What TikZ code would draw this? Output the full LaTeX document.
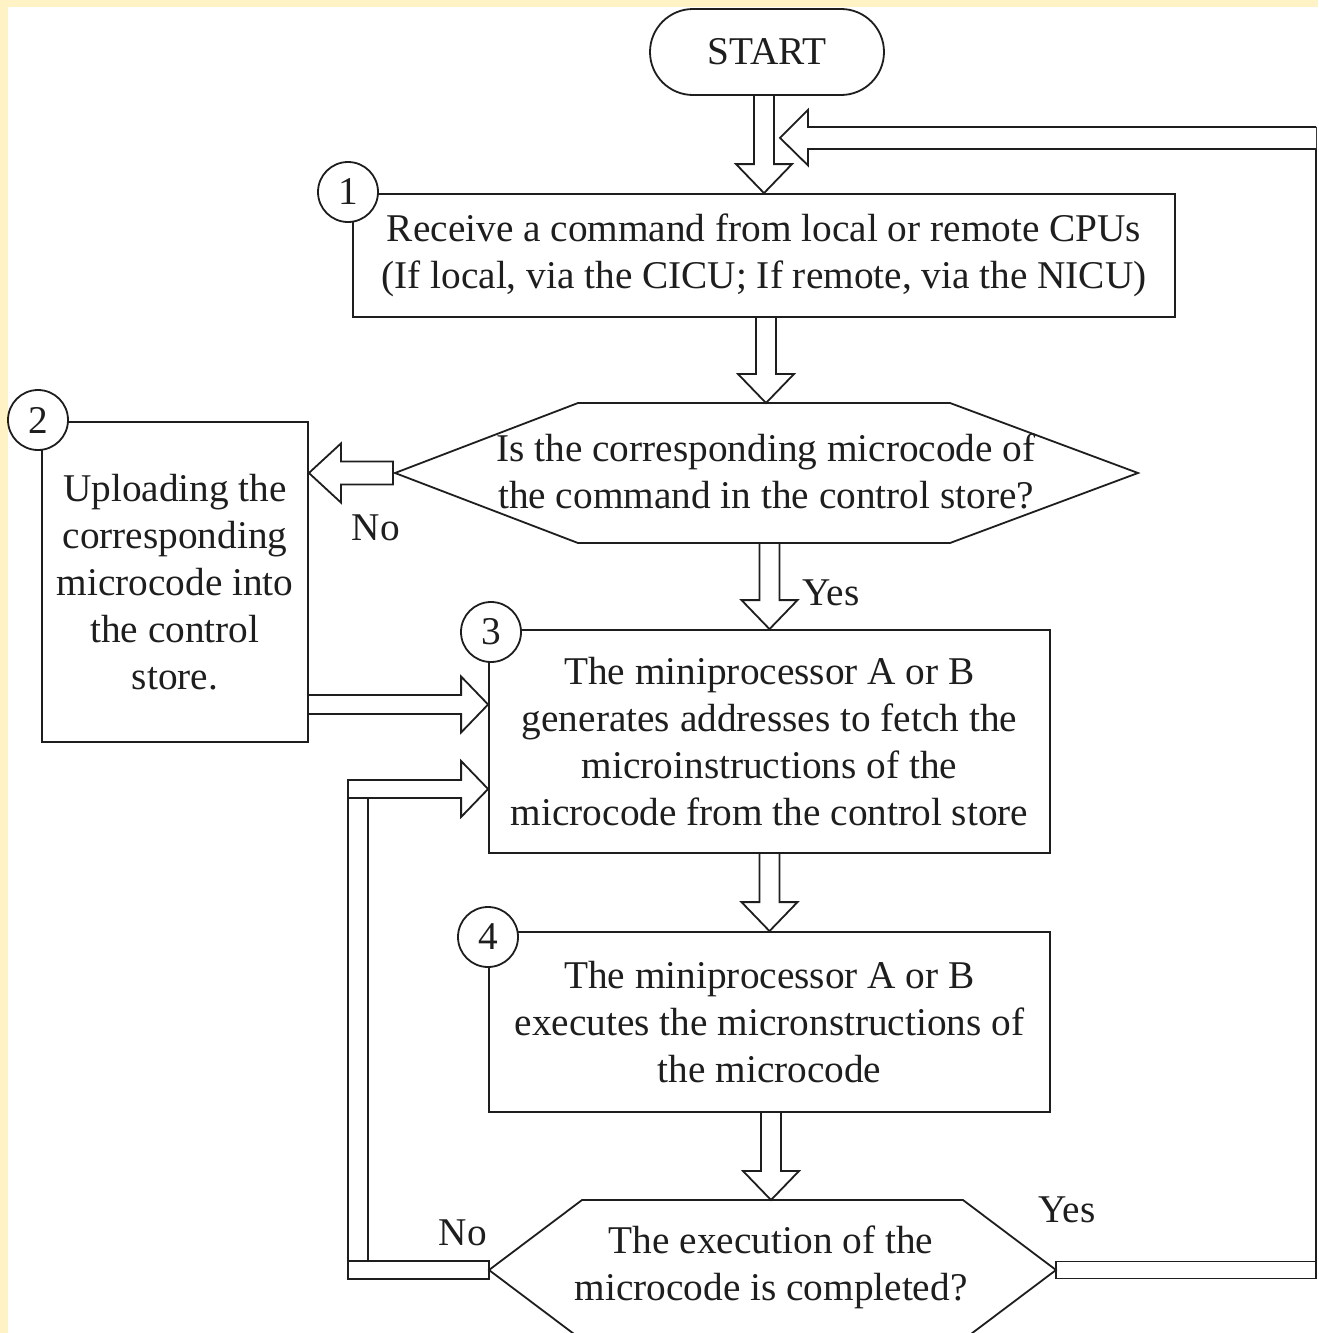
\documentclass[tikz,border=0pt]{standalone}
\usepackage{fontspec}
\setmainfont{Liberation Serif}
\usetikzlibrary{calc,backgrounds}
\definecolor{bgyellow}{RGB}{255,242,196}
\definecolor{ink}{RGB}{30,30,30}
\newcommand\txt{\fontsize{39.3}{47}\selectfont}
% vertical block arrow: #1 source (shaft start), #2 tip
\newcommand\blkdown[2]{%
  \draw[blk] ($(#2 |- #1)+(-10,0)$) -- ($(#2)+(-10,-29)$) -- ($(#2)+(-28,-29)$)
    -- (#2) -- ($(#2)+(28,-29)$) -- ($(#2)+(10,-29)$) -- ($(#2 |- #1)+(10,0)$);}
\begin{document}
\begin{tikzpicture}[x=1pt,y=-1pt,
  ln/.style={draw=ink,line width=1.8pt,line join=miter},
  blk/.style={ln,fill=white},
  box/.style={ln,rectangle,inner sep=0pt,align=center,font=\txt,text=ink},
  num/.style={ln,circle,fill=white,minimum size=60pt,inner sep=0pt,font=\txt,text=ink},
  lbl/.style={inner sep=0pt,font=\txt,text=ink}]
\useasboundingbox (0,0) rectangle (1318,1333);
\clip (0,0) rectangle (1318,1333);

% boxes
\node[box,rounded corners=43pt,minimum width=234pt,minimum height=86pt] (start) at (767,52) {START};
\node[box,minimum width=822pt,minimum height=123pt] (b1) at (764,255.5)
  {Receive a command from local or remote CPUs\\(If local, via the CICU; If remote, via the NICU)};
\node[box,minimum width=266pt,minimum height=320pt] (b2) at (175,582)
  {Uploading the\\corresponding\\microcode into\\the control\\store.};
\node[box,minimum width=561pt,minimum height=223pt] (b3) at (769.5,741.5)
  {The miniprocessor A or B\\generates addresses to fetch the\\microinstructions of the\\microcode from the control store};
\node[box,minimum width=561pt,minimum height=180pt] (b4) at (769.5,1022)
  {The miniprocessor A or B\\executes the micronstructions of\\the microcode};

% decisions
\draw[ln] (395,473) coordinate (d1w) -- (578,403) -- (950,403) -- (1138,473) -- (950,543) -- (578,543) -- cycle;
\node[lbl,align=center] (d1) at (766,471) {Is the corresponding microcode of\\the command in the control store?};
\coordinate (d1n) at (766,403);
\coordinate (d1s) at (766,543);

\draw[ln] (489,1270) coordinate (d2w) -- (582,1200) -- (963,1200) -- (1056,1270) coordinate (d2e) -- (963,1340) -- (582,1340) -- cycle;
\node[lbl,align=center] (d2) at (771,1267) {The execution of the\\microcode is completed?};
\coordinate (d2n) at (771,1200);

% labels
\node[lbl] (no1) at (376,528) {No};
\node[lbl] (yes1) at (831,593) {Yes};
\node[lbl] (no2) at (463,1233) {No};
\node[lbl] (yes2) at (1067,1210) {Yes};

% helper coordinates
\coordinate (t2) at (b2.east |- d1w);
\coordinate (t3) at ($(b3.west)+(0,-37)$);
\coordinate (s3) at (b2.east |- t3);
\coordinate (t4) at ($(b3.west)+(0,47.5)$);
\coordinate (t1) at ($(start.south)+(13,42)$);
\coordinate (lx) at ($(d2w)+(-141,0)$);
\coordinate (rx) at (1316,0);

\begin{scope}[on background layer]
  \fill[bgyellow] (0,0) rectangle (1318,1333);
  \fill[white] (8,7) rectangle (1318,1333);
  % straight down arrows
  \blkdown{start.south}{b1.north}
  \blkdown{b1.south}{d1n}
  \blkdown{d1s}{b3.north}
  \blkdown{b3.south}{b4.north}
  \blkdown{b4.south}{d2n}
  % No: d1 -> b2
  \draw[blk] ($(d1w)+(-2,-11.5)$) -- ($(t2)+(32,-11.5)$) -- ($(t2)+(32,-29.5)$) -- (t2)
    -- ($(t2)+(32,29.5)$) -- ($(t2)+(32,11.5)$) -- ($(d1w)+(-2,11.5)$) -- cycle;
  % b2 -> b3
  \draw[blk] ($(s3)+(0,-9.5)$) -- ($(t3)+(-27,-9.5)$) -- ($(t3)+(-27,-28)$) -- (t3)
    -- ($(t3)+(-27,28)$) -- ($(t3)+(-27,9.5)$) -- ($(s3)+(0,9.5)$);
  % No loop: d2 -> b3
  \draw[ln] ($(lx |- t4)+(0,-9)$) -- ($(lx)+(0,9)$);
  \draw[ln] ($(lx |- t4)+(20,9)$) -- ($(lx)+(20,-9)$);
  \draw[blk] ($(lx)+(0,-9)$) rectangle ($(d2w)+(0,9)$);
  \draw[blk] ($(lx |- t4)+(0,-9)$) -- ($(t4)+(-27,-9)$) -- ($(t4)+(-27,-28)$) -- (t4)
    -- ($(t4)+(-27,28)$) -- ($(t4)+(-27,9)$) -- ($(lx |- t4)+(0,9)$) -- cycle;
  % Yes loop: d2 -> back to top
  \draw[blk] ($(d2e)+(0,-8.5)$) rectangle ($(rx |- d2e)+(0,8.5)$);
  \draw[ln] ($(rx |- t1)+(0,-11)$) -- ($(rx |- d2e)+(0,8.5)$);
  \draw[blk] ($(rx |- t1)+(0,11)$) -- ($(t1)+(28,11)$) -- ($(t1)+(28,27.5)$) -- (t1)
    -- ($(t1)+(28,-28)$) -- ($(t1)+(28,-11)$) -- ($(rx |- t1)+(0,-11)$);
\end{scope}

% step numbers
\node[num] (n1) at (348,192) {1};
\node[num] (n2) at (38,420) {2};
\node[num] (n3) at (491,632) {3};
\node[num] (n4) at (488,937) {4};
\end{tikzpicture}
\end{document}
